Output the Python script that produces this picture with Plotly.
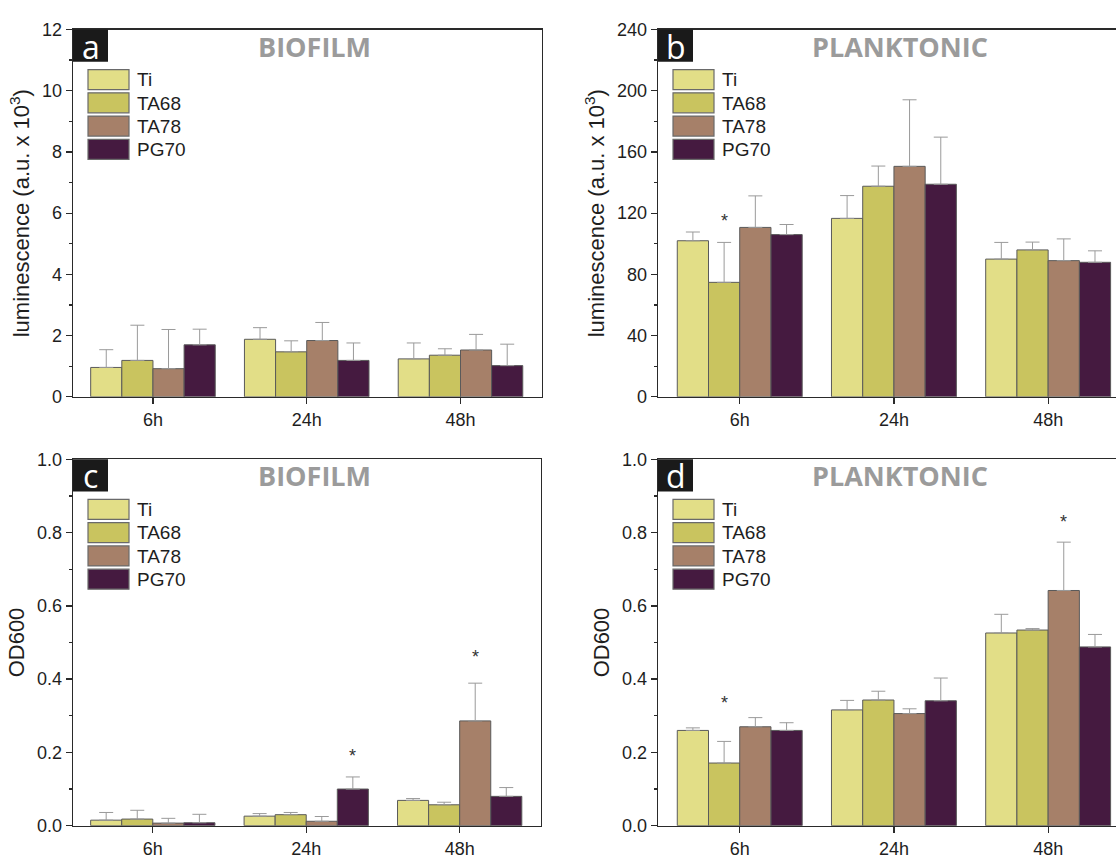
import plotly.graph_objects as go

# ---------------- data ----------------
categories = ["6h", "24h", "48h"]
series = ["Ti", "TA68", "TA78", "PG70"]
colors = ["#E2DE87", "#C9C45F", "#A68069", "#451A40"]

# panel a : luminescence biofilm (a.u. x 10^3)
a_vals = {"Ti": [0.96, 1.88, 1.24], "TA68": [1.19, 1.47, 1.36],
          "TA78": [0.92, 1.84, 1.53], "PG70": [1.70, 1.19, 1.02]}
a_err = {"Ti": [0.58, 0.38, 0.52], "TA68": [1.15, 0.36, 0.21],
         "TA78": [1.28, 0.59, 0.51], "PG70": [0.51, 0.57, 0.70]}

# panel b : luminescence planktonic
b_vals = {"Ti": [102.0, 116.6, 90.0], "TA68": [74.8, 137.6, 96.0],
          "TA78": [110.7, 150.6, 89.0], "PG70": [106.0, 138.9, 87.9]}
b_err = {"Ti": [5.7, 14.9, 10.9], "TA68": [26.1, 13.2, 5.1],
         "TA78": [20.6, 43.5, 14.2], "PG70": [6.6, 30.8, 7.5]}

# panel c : OD600 biofilm
c_vals = {"Ti": [0.015, 0.026, 0.069], "TA68": [0.018, 0.030, 0.057],
          "TA78": [0.007, 0.012, 0.286], "PG70": [0.008, 0.100, 0.080]}
c_err = {"Ti": [0.021, 0.007, 0.005], "TA68": [0.024, 0.006, 0.007],
         "TA78": [0.013, 0.013, 0.103], "PG70": [0.023, 0.033, 0.024]}

# panel d : OD600 planktonic
d_vals = {"Ti": [0.260, 0.316, 0.526], "TA68": [0.171, 0.343, 0.534],
          "TA78": [0.270, 0.306, 0.642], "PG70": [0.260, 0.341, 0.488]}
d_err = {"Ti": [0.007, 0.026, 0.051], "TA68": [0.059, 0.024, 0.004],
         "TA78": [0.025, 0.013, 0.132], "PG70": [0.021, 0.062, 0.034]}

# significance marks: (category index, series index, y position)
a_stars = []
b_stars = [(0, 1, 117.0)]
c_stars = [(1, 3, 0.199), (2, 2, 0.47)]
d_stars = [(0, 1, 0.343), (2, 2, 0.837)]

panel_letters = ["a", "b", "c", "d"]
panel_titles = ["BIOFILM", "PLANKTONIC", "BIOFILM", "PLANKTONIC"]
y_titles = ["luminescence (a.u. x 10<sup>3</sup>)", "luminescence (a.u. x 10<sup>3</sup>)",
            "OD600", "OD600"]

# ---------------- layout geometry ----------------
W, H = 1116, 864
BARGAP = 0.19
panels = [
    dict(vals=a_vals, err=a_err, stars=a_stars, x0=73, x1=542, top=20, bot=396,
         yr=[0, 12], dt=2, mdt=1, fmt="d", xr=[-0.52, 2.53], right=True),
    dict(vals=b_vals, err=b_err, stars=b_stars, x0=658, x1=1116, top=20, bot=396,
         yr=[0, 240], dt=40, mdt=20, fmt="d", xr=[-0.53, 2.44], right=False),
    dict(vals=c_vals, err=c_err, stars=c_stars, x0=73, x1=541, top=460, bot=835,
         yr=[0, 1.0], dt=0.2, mdt=0.1, fmt=".1f", xr=[-0.52, 2.53], right=True),
    dict(vals=d_vals, err=d_err, stars=d_stars, x0=658, x1=1116, top=460, bot=835,
         yr=[0, 1.0], dt=0.2, mdt=0.1, fmt=".1f", xr=[-0.53, 2.44], right=False),
]

AXC = "#2a2a2a"
TXT = "#1e1e1e"
FONT = "Liberation Sans, Arial, sans-serif"

fig = go.Figure()
layout = dict(width=W, height=H, margin=dict(l=0, r=0, t=0, b=0),
              paper_bgcolor="white", plot_bgcolor="white",
              barmode="group", bargap=BARGAP, bargroupgap=0,
              showlegend=False, font=dict(family=FONT, color=TXT))
shapes, annotations = [], []
xpos = list(range(len(categories)))
bw = (1 - BARGAP) / len(series)

for p, P in enumerate(panels):
    n = p + 1
    xa = "x" if n == 1 else f"x{n}"
    ya = "y" if n == 1 else f"y{n}"
    for k, s in enumerate(series):
        fig.add_trace(go.Bar(
            x=xpos, y=P["vals"][s], name=s, xaxis=xa, yaxis=ya,
            marker=dict(color=colors[k], line=dict(color="#5a5a5a", width=1)),
            error_y=dict(type="data", symmetric=False, array=P["err"][s],
                         arrayminus=[0] * len(categories),
                         color="#9a9a9a", thickness=1, width=7),
        ))
    dom_x = [P["x0"] / W, P["x1"] / W]
    dom_y = [1 - P["bot"] / H, 1 - P["top"] / H]
    layout[f"xaxis{n if n > 1 else ''}"] = dict(
        domain=dom_x, anchor=ya, range=P["xr"], tickvals=xpos, ticktext=categories,
        showline=True, linecolor=AXC, linewidth=1.3, mirror=True,
        ticks="outside", ticklen=6, tickcolor=AXC, tickwidth=1.3,
        tickfont=dict(size=18, color=TXT), showgrid=False, zeroline=False,
        fixedrange=True)
    layout[f"yaxis{n if n > 1 else ''}"] = dict(
        domain=dom_y, anchor=xa, range=P["yr"], dtick=P["dt"], tick0=0,
        tickformat=P["fmt"], showline=True, linecolor=AXC, linewidth=1.3,
        mirror=P["right"], ticks="outside", ticklen=6, tickcolor=AXC, tickwidth=1.3,
        minor=dict(ticks="outside", ticklen=3, dtick=P["mdt"], tick0=0, tickcolor=AXC),
        tickfont=dict(size=18, color=TXT), showgrid=False, zeroline=False,
        title=dict(text=y_titles[p], font=dict(size=22, color=TXT), standoff=6),
        fixedrange=True)
    if P["right"]:
        m = n + 4
        layout[f"yaxis{m}"] = dict(
            overlaying=ya, side="right", anchor=xa, range=P["yr"], dtick=P["dt"],
            tick0=0, showline=False, ticks="inside", ticklen=6, tickcolor=AXC,
            tickwidth=1.3, showticklabels=False, showgrid=False, zeroline=False,
            minor=dict(ticks="inside", ticklen=3, dtick=P["mdt"], tick0=0, tickcolor=AXC),
            fixedrange=True)
    # panel letter box
    shapes.append(dict(type="rect", xref="paper", yref="paper",
                       x0=P["x0"] / W, x1=(P["x0"] + 35) / W,
                       y0=1 - (P["top"] + 33) / H, y1=1 - P["top"] / H,
                       fillcolor="#1a1a1a", line=dict(width=0), layer="above"))
    annotations.append(dict(xref="paper", yref="paper",
                            x=(P["x0"] + 17.5) / W, y=1 - (P["top"] + 17) / H,
                            text=panel_letters[p], showarrow=False,
                            font=dict(family="Open Sans", size=32, color="white"),
                            xanchor="center", yanchor="middle"))
    # panel title
    full_right = P["x0"] + 473
    annotations.append(dict(xref="paper", yref="paper",
                            x=((P["x0"] + full_right) / 2 + 5) / W,
                            y=1 - (P["top"] + 17) / H,
                            text=f"<b>{panel_titles[p]}</b>", showarrow=False,
                            font=dict(family="Open Sans", size=27, color="#9b9b9b"),
                            xanchor="center", yanchor="middle"))
    # legend drawn as swatches + labels
    for k, s in enumerate(series):
        ytop = P["top"] + 41 + k * 23.8
        shapes.append(dict(type="rect", xref="paper", yref="paper",
                           x0=(P["x0"] + 15) / W, x1=(P["x0"] + 56) / W,
                           y0=1 - (ytop + 20.5) / H, y1=1 - ytop / H,
                           fillcolor=colors[k], line=dict(color="#6a6a6a", width=1.2)))
        annotations.append(dict(xref="paper", yref="paper",
                                x=(P["x0"] + 62) / W, y=1 - (ytop + 10.5) / H,
                                text=s, showarrow=False, xanchor="left", yanchor="middle",
                                font=dict(size=19, color=TXT)))
    # significance asterisks
    for (ci, si, yv) in P["stars"]:
        annotations.append(dict(xref=xa, yref=ya, x=xpos[ci] + (si - 1.5) * bw, y=yv,
                                text="*", showarrow=False, yanchor="middle",
                                yshift=-3, font=dict(size=18, color="#333333")))

layout["shapes"] = shapes
layout["annotations"] = annotations
fig.update_layout(**layout)
fig.write_html("out.html", config={"displayModeBar": False, "staticPlot": True},
               post_script="document.body.style.margin='0';document.body.style.overflow='hidden';")
